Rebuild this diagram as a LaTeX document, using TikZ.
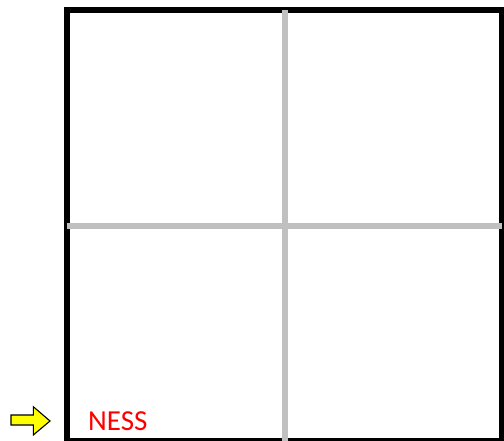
\documentclass[tikz,border=0pt]{standalone}
\usepackage{fontspec}
\newfontfamily\labelfont{Carlito}
\begin{document}
\begin{tikzpicture}[x=1pt,y=-1pt]
\definecolor{color0}{HTML}{000000}
\definecolor{color1}{HTML}{C0C0C0}
\definecolor{color2}{HTML}{FF0000}
\definecolor{color3}{HTML}{FFFF00}
\useasboundingbox (0,0) rectangle (504,441);
\clip (0,0) rectangle (504,441);
\draw[color0,line width=6.5pt] (67,10) rectangle (502,441.5);
\draw[color1,line width=6.2pt] (285.3,10) -- (285.3,441);
\draw[color1,line width=6.2pt] (67,225.7) -- (502,225.7);
\draw[color0,fill=color3,line width=1.1pt,line join=miter] (11,415) -- (33.3,415) -- (33.3,406.7) -- (50,421) -- (33.3,435) -- (33.3,425) -- (11,425) -- cycle;
\node[anchor=base west,inner sep=0pt] (ness) at (88,430) {\labelfont\fontsize{29}{32}\selectfont\color{color2}NESS};
\end{tikzpicture}
\end{document}
